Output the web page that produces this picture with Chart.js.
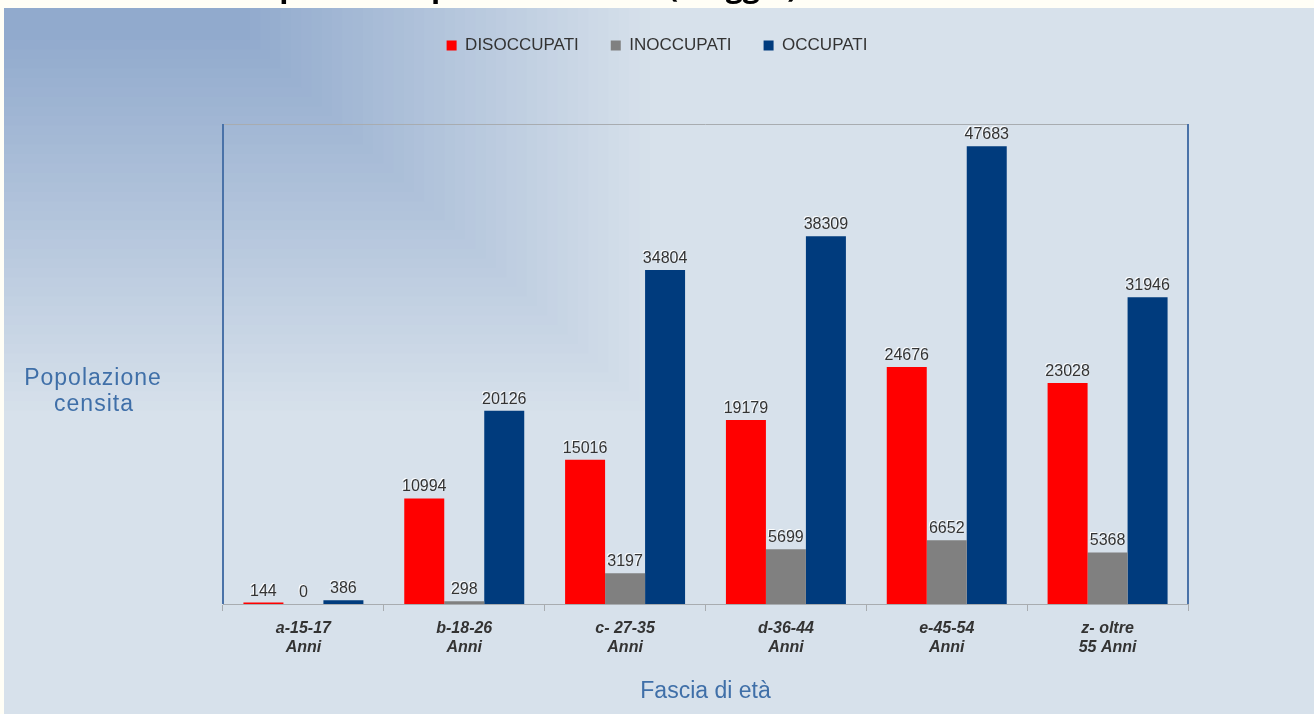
<!DOCTYPE html>
<html>
<head>
<meta charset="utf-8">
<script src="https://cdn.jsdelivr.net/npm/chart.js@4.4.0/dist/chart.umd.min.js"></script>
<style>
  html, body { margin: 0; padding: 0; background: #ffffff; overflow: hidden; }
  canvas { display: block; }
</style>
</head>
<body>
<canvas id="chart" width="1314" height="714"></canvas>
<script>
// Data
const categories = [
    ['a-15-17', 'Anni'],
    ['b-18-26', 'Anni'],
    ['c- 27-35', 'Anni'],
    ['d-36-44', 'Anni'],
    ['e-45-54', 'Anni'],
    ['z- oltre', '55 Anni']
];
const seriesNames = ['DISOCCUPATI', 'INOCCUPATI', 'OCCUPATI'];
const disoccupati = [144, 10994, 15016, 19179, 24676, 23028];
const inoccupati = [0, 298, 3197, 5699, 6652, 5368];
const occupati = [386, 20126, 34804, 38309, 47683, 31946];
const yMax = 50000;

const pageTitle = "Stato occupazionale per fascia d'età (maggio)";
const yTitleLines = ['Popolazione', 'censita'];
const xTitle = 'Fascia di età';

const colors = {
    red: '#ff0000',
    grey: '#808080',
    navy: '#003b7d',
    text: '#333333',
    axisTitle: '#3f6fa8',
    frameBlue: '#4a72a8',
    frameGrey: '#a8acb0'
};

function lerpColor(a, b, t) {
    const pa = [1, 3, 5].map(i => parseInt(a.substr(i, 2), 16));
    const pb = [1, 3, 5].map(i => parseInt(b.substr(i, 2), 16));
    const c = pa.map((v, i) => Math.round(v + (pb[i] - v) * t));
    return `rgb(${c[0]},${c[1]},${c[2]})`;
}

// Slide background: white strip with clipped title, stepped corner gradient
const backgroundPlugin = {
    id: 'slideBackground',
    beforeDraw(chart) {
        const ctx = chart.ctx;
        ctx.save();
        ctx.fillStyle = '#fffef6';
        ctx.fillRect(0, 0, chart.width, chart.height);

        // title, only descenders visible above the panel
        ctx.font = 'bold 30px "Open Sans"';
        ctx.fillStyle = '#000000';
        ctx.textBaseline = 'alphabetic';
        ctx.textAlign = 'left';
        const lead = ctx.measureText("Stato occupazionale per fascia d'età ").width;
        ctx.fillText(pageTitle, 668 - lead, -3);

        const px = 4, py = 8;
        const start = '#91aacd', end = '#d7e1eb';
        ctx.fillStyle = end;
        ctx.fillRect(px, py, chart.width - px, chart.height - py);
        const steps = 40;
        for (let k = steps; k >= 0; k--) {
            const f = k / steps;
            ctx.fillStyle = lerpColor(start, end, f);
            ctx.fillRect(px, py, 250 + 410 * f - px, 40 + 380 * f - py);
        }
        ctx.restore();
    },
    afterDraw(chart) {
        const ctx = chart.ctx;
        const a = chart.chartArea;
        ctx.save();
        // plot frame
        ctx.lineWidth = 1;
        ctx.strokeStyle = colors.frameGrey;
        ctx.beginPath();
        ctx.moveTo(a.left, a.top + 0.5);
        ctx.lineTo(a.right, a.top + 0.5);
        ctx.stroke();
        ctx.lineWidth = 2;
        ctx.strokeStyle = colors.frameBlue;
        ctx.beginPath();
        ctx.moveTo(a.left, a.top);
        ctx.lineTo(a.left, a.bottom);
        ctx.moveTo(a.right, a.top);
        ctx.lineTo(a.right, a.bottom);
        ctx.stroke();

        // horizontal y-axis title on the left
        ctx.font = '23px "Liberation Sans", Arial, sans-serif';
        ctx.letterSpacing = '1px';
        ctx.fillStyle = colors.axisTitle;
        ctx.textAlign = 'center';
        ctx.textBaseline = 'middle';
        ctx.fillText(yTitleLines[0], 93, 379);
        ctx.fillText(yTitleLines[1], 94, 405);
        ctx.restore();
    }
};

// Value labels above bars
const valueLabels = {
    id: 'valueLabels',
    afterDatasetsDraw(chart) {
        const ctx = chart.ctx;
        ctx.save();
        ctx.font = '16px "Liberation Sans", Arial, sans-serif';
        ctx.textAlign = 'center';
        ctx.textBaseline = 'alphabetic';
        ctx.shadowColor = 'rgba(255,255,255,0.95)';
        ctx.shadowOffsetX = -1;
        ctx.shadowOffsetY = -1;
        ctx.shadowBlur = 0;
        ctx.fillStyle = colors.text;
        chart.data.datasets.forEach((ds, di) => {
            const meta = chart.getDatasetMeta(di);
            meta.data.forEach((bar, i) => {
                ctx.fillText(String(ds.data[i]), bar.x, bar.y - 7);
            });
        });
        ctx.restore();
    }
};

// Push plot area below the legend
const legendSpacer = {
    id: 'legendSpacer',
    beforeInit(chart) {
        const origFit = chart.legend.fit;
        chart.legend.fit = function () {
            origFit.bind(chart.legend)();
            this.height = 119;
        };
    }
};

const ctx = document.getElementById('chart').getContext('2d');
new Chart(ctx, {
    type: 'bar',
    data: {
        labels: categories,
        datasets: [
            { label: seriesNames[0], data: disoccupati, backgroundColor: colors.red },
            { label: seriesNames[1], data: inoccupati, backgroundColor: colors.grey },
            { label: seriesNames[2], data: occupati, backgroundColor: colors.navy }
        ]
    },
    options: {
        responsive: false,
        animation: false,
        devicePixelRatio: 1,
        layout: {
            padding: { left: 126, right: 126, top: 5, bottom: 0 }
        },
        datasets: {
            bar: {
                categoryPercentage: 0.746,
                barPercentage: 1,
                borderWidth: 0
            }
        },
        scales: {
            x: {
                grid: {
                    display: true,
                    offset: true,
                    drawOnChartArea: false,
                    drawTicks: true,
                    tickLength: 7,
                    color: colors.frameGrey
                },
                border: { display: true, color: colors.frameGrey, width: 1 },
                ticks: {
                    color: colors.text,
                    padding: 8,
                    font: { family: '"Liberation Sans", Arial, sans-serif', size: 16, style: 'italic', weight: 'bold', lineHeight: 1.2 }
                },
                title: {
                    display: true,
                    text: xTitle,
                    color: colors.axisTitle,
                    font: { family: '"Liberation Sans", Arial, sans-serif', size: 23, lineHeight: 1.1 },
                    padding: { top: 0, bottom: 10 }
                },
                afterFit(scale) { scale.height = 110; }
            },
            y: {
                min: 0,
                max: yMax,
                grid: { display: false },
                border: { display: false },
                ticks: { display: false },
                afterFit(scale) { scale.width = 97; }
            }
        },
        plugins: {
            legend: {
                position: 'top',
                align: 'center',
                labels: {
                    boxWidth: 10,
                    boxHeight: 10,
                    padding: 32,
                    color: colors.text,
                    font: { family: '"Liberation Sans", Arial, sans-serif', size: 17 }
                }
            },
            tooltip: { enabled: false },
            title: { display: false }
        }
    },
    plugins: [backgroundPlugin, valueLabels, legendSpacer]
});
</script>
</body>
</html>
